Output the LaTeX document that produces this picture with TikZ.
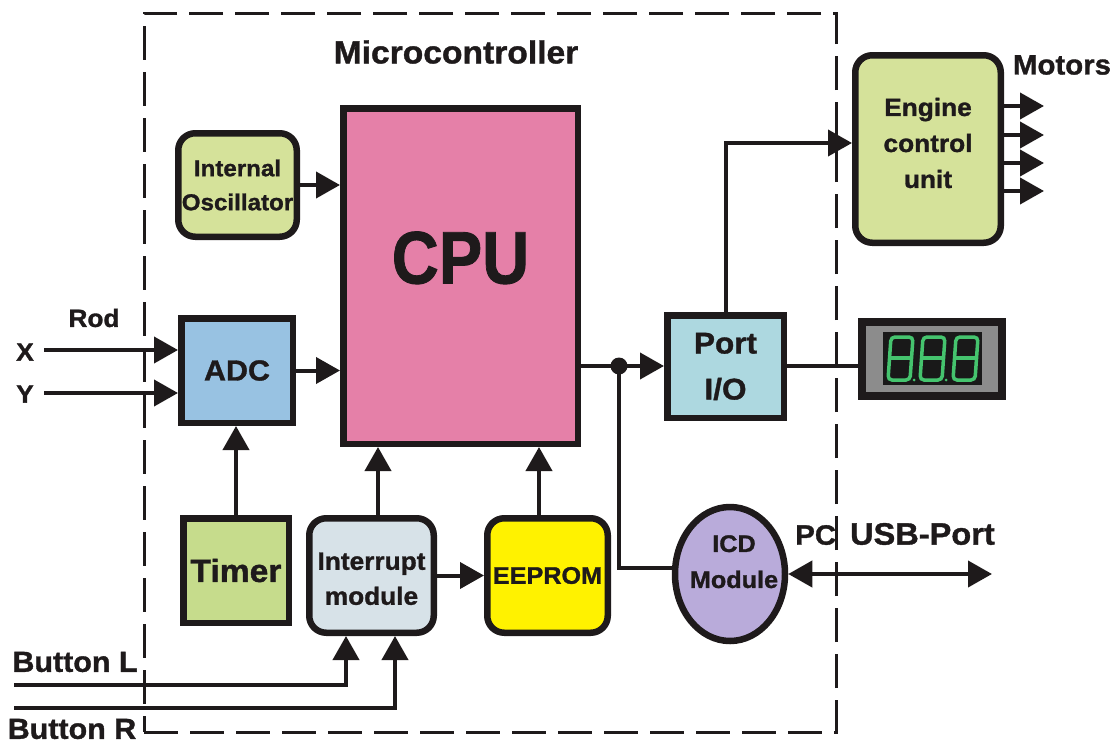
\documentclass[tikz,border=0pt]{standalone}
\usepackage{fontspec}
\setmainfont[BoldFeatures={FakeStretch=1.05,FakeBold=1.2}]{Liberation Sans}
\usetikzlibrary{arrows.meta,shapes.geometric}
\definecolor{ink}{HTML}{1E1A1B}
\definecolor{leaf}{HTML}{D5E29A}
\definecolor{timerfill}{HTML}{C6DC8C}
\definecolor{cpufill}{HTML}{E580A8}
\definecolor{adcfill}{HTML}{98C2E2}
\definecolor{intfill}{HTML}{D7E2E8}
\definecolor{eepfill}{HTML}{FFF200}
\definecolor{portfill}{HTML}{ADD8E0}
\definecolor{icdfill}{HTML}{B9ABDA}
\definecolor{dispgray}{HTML}{8C8C8C}
\definecolor{dispgreen}{HTML}{45C46E}
\newcommand{\lift}[2]{\smash{\raisebox{#1}{\begin{tabular}{@{}c@{}}#2\end{tabular}}}}
\newcommand{\fsz}[2]{\fontsize{#1}{#2}\selectfont}
\begin{document}
\begin{tikzpicture}[x=1pt,y=-1pt,->,>={Triangle[length=24pt,width=26pt]},line width=4pt,draw=ink,text=ink,
      font=\bfseries,
      sq node/.style={rectangle,draw=ink,line width=6.5pt,inner sep=0pt,align=center},
      rd node/.style={sq node,rounded corners=17pt},
      txt node/.style={inner sep=0pt,align=center,text=ink}]
    \useasboundingbox (0,0) rectangle (1116,744);
    \node[rectangle,draw=ink,line width=3pt,dash pattern=on 34pt off 12pt,
      minimum width=692pt,minimum height=719pt] (mcu) at (490,372.5) {};
    \node[sq node,fill=cpufill,minimum width=234.5pt,minimum height=335.5pt,font=\bfseries\fsz{62}{62}] (cpu) at (460.5,276) {\raisebox{37pt}{\scalebox{1}[1.2]{CPU}}};
    \node[rd node,fill=leaf,minimum width=118.5pt,minimum height=103.5pt,font=\bfseries\fsz{23}{34}] (osc) at (237.5,185) {Internal\\Oscillator};
    \node[sq node,fill=adcfill,minimum width=111.5pt,minimum height=104.5pt,font=\bfseries\fsz{29}{30}] (adc) at (237,370.5) {ADC};
    \node[sq node,fill=timerfill,minimum width=105.5pt,minimum height=104.5pt,font=\bfseries\fsz{32}{34}] (timer) at (236,570.5) {Timer};
    \node[rd node,fill=intfill,minimum width=124.5pt,minimum height=114.5pt,font=\bfseries\fsz{25}{35}] (int) at (371.5,575.5) {\lift{-11pt}{Interrupt\\module}};
    \node[rd node,fill=eepfill,minimum width=120.5pt,minimum height=114.5pt,font=\bfseries\fsz{24}{24}] (eep) at (547.5,575.5) {EEPROM};
    \node[sq node,fill=portfill,minimum width=116.5pt,minimum height=102.5pt,font=\bfseries\fsz{30}{46}] (port) at (725.5,366.5) {Port\\I/O};
    \node[rd node,fill=leaf,minimum width=145.5pt,minimum height=187.5pt,font=\bfseries\fsz{25}{36}] (ecu) at (928,149) {\lift{-2pt}{Engine\\control\\unit}};
    \node[ellipse,draw=ink,line width=6.5pt,fill=icdfill,inner sep=0pt,align=center,minimum width=110pt,minimum height=134pt,font=\bfseries\fsz{24}{36}] (icd) at (730,574) {\makebox[0pt]{\lift{5pt}{\hspace{8pt}ICD\\\hspace{8pt}Module}}};
    \node[rectangle,draw=ink,line width=8pt,fill=dispgray,minimum width=140pt,minimum height=74pt,inner sep=0pt] (disp) at (932,358.5) {};
    \node[rectangle,fill=black!90,minimum width=99pt,minimum height=53pt,inner sep=0pt] (digits) at (932.5,358.5) {};
    \foreach \dx in {888,920,953} {
      \draw[-,dispgreen,line width=3.5pt,rounded corners=4pt] (\dx,380) -- ({\dx+3},337) -- ({\dx+25},337) -- ({\dx+22},380) -- cycle;
      \draw[-,dispgreen,line width=3.5pt] ({\dx+1},358) -- ({\dx+24},358);
    }
    \fill[dispgreen] (914,380) circle (1.5pt) (946,380) circle (1.5pt);
    % outside labels
    \node[txt node,font=\bfseries\fsz{32}{32}] (title) at (456,52) {Microcontroller};
    \node[txt node,font=\bfseries\fsz{28}{28}] (motors) at (1062,65) {Motors};
    \node[txt node,font=\bfseries\fsz{25}{26}] (rod) at (94,318) {Rod};
    \node[txt node,font=\bfseries\fsz{25}{26}] (xlab) at (25,352) {X};
    \node[txt node,font=\bfseries\fsz{25}{26}] (ylab) at (25,394) {Y};
    \node[txt node,font=\bfseries\fsz{28}{28}] (usb) at (895,534) {PC\hspace{14pt}{\fsz{31}{31}USB-Port}};
    \node[txt node,font=\bfseries\fsz{29}{29}] (btnl) at (75,662) {Button L};
    \node[txt node,font=\bfseries\fsz{29}{29}] (btnr) at (72,729) {Button R};
    % free ends
    \coordinate (xin) at (44,350);
    \coordinate (yin) at (44,393);
    \coordinate (lin) at (14,685);
    \coordinate (rin) at (14,708);
    \coordinate (usbend) at (992,574);
    \coordinate (dot) at (619,366);
    \fill[ink] (dot) circle (8.5pt);
    \path[every edge/.style={draw=ink,->}]
    (xin) edge (xin -| adc.west)
    (yin) edge (yin -| adc.west)
    (osc.east) edge (osc.east -| cpu.west)
    (adc.east) edge (adc.east -| cpu.west)
    (timer.north) edge (timer.north |- adc.south)
    (cpu.east |- dot) edge (port.west |- dot)
    (int.east) edge (eep.west)
    ;
    \draw (int.north -| 378,0) -- (378,0 |- cpu.south);
    \draw (eep.north -| 539,0) -- (539,0 |- cpu.south);
    \draw[-] (port.east |- dot) -- (disp.west |- dot);
    \draw (port.north -| 726,0) |- (ecu.west |- 726,143);
    \draw[-] (dot) |- (icd.west |- 0,568);
    \draw[<->] (icd.east) -- (usbend);
    \draw (lin) -| (int.south -| 346,0);
    \draw (rin) -| (int.south -| 395,0);
    \foreach \my in {106,135,163,191} {
      \coordinate (mot\my) at (1044,\my);
      \draw (ecu.east |- mot\my) -- (mot\my);
    }
  \end{tikzpicture}
\end{document}
